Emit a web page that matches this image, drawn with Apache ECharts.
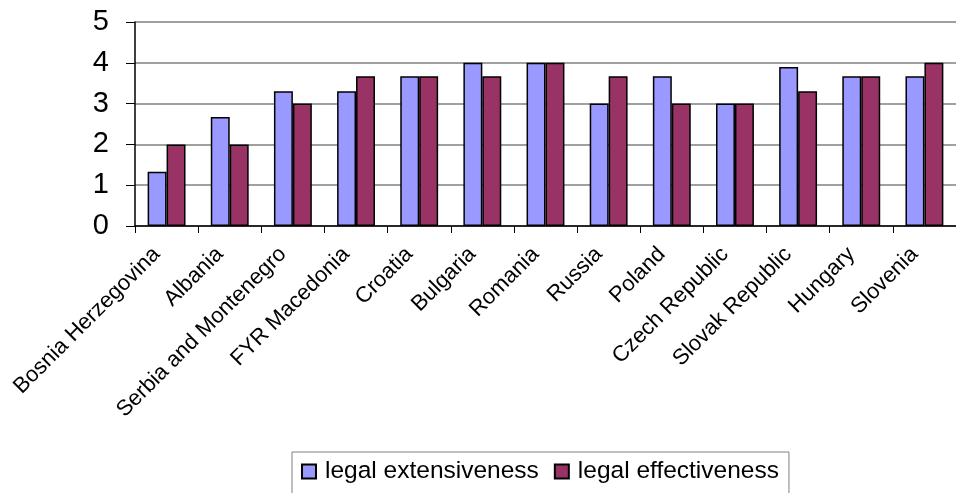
<!DOCTYPE html>
<html>
<head>
<meta charset="utf-8">
<style>
  html, body { margin: 0; padding: 0; background: #ffffff; }
  #chart { width: 956px; height: 493px; }
</style>
<script src="https://cdn.jsdelivr.net/npm/echarts@6/dist/echarts.min.js"></script>
</head>
<body>
<div id="chart"></div>
<script>
// Countries along the x axis
const countries = [
  'Bosnia Herzegovina', 'Albania', 'Serbia and Montenegro', 'FYR Macedonia',
  'Croatia', 'Bulgaria', 'Romania', 'Russia', 'Poland', 'Czech Republic',
  'Slovak Republic', 'Hungary', 'Slovenia'
];

// Scores per country
const legalExtensiveness = [1.33, 2.67, 3.3, 3.3, 3.67, 4, 4, 3, 3.67, 3, 3.9, 3.67, 3.67];
const legalEffectiveness = [2, 2, 3, 3.67, 3.67, 3.67, 4, 3.67, 3, 3, 3.3, 3.67, 4];

const seriesNames = ['legal extensiveness', 'legal effectiveness'];
const yTicks = [0, 1, 2, 3, 4, 5];

const font = '"Liberation Sans", Arial, sans-serif';
const chart = echarts.init(document.getElementById('chart'), null, { renderer: 'canvas' });

const barStyle = (color) => ({ color: color, borderColor: '#000000', borderWidth: 1.5 });

chart.setOption({
  animation: false,
  backgroundColor: '#ffffff',
  textStyle: { fontFamily: font, color: '#000000' },
  grid: { left: 135, right: -8, top: 22, bottom: 267, containLabel: false },
  legend: {
    data: seriesNames,
    left: 292,
    top: 452,
    padding: [7, 10, 30, 9],
    itemGap: 15,
    itemWidth: 14,
    itemHeight: 14,
    icon: 'rect',
    borderColor: '#808080',
    borderWidth: 1,
    textStyle: { fontFamily: font, fontSize: 24.5, color: '#000000', padding: [0, 0, 0, 4] }
  },
  xAxis: {
    type: 'category',
    data: countries,
    boundaryGap: true,
    axisLine: { lineStyle: { color: '#000000', width: 1.5 } },
    axisTick: { show: true, length: 7, alignWithLabel: false, lineStyle: { color: '#000000' } },
    axisLabel: {
      interval: 0,
      rotate: 45,
      fontSize: 22,
      fontFamily: font,
      color: '#000000',
      margin: 15,
      padding: [0, 14, 0, 0]
    },
    splitLine: { show: false }
  },
  yAxis: {
    type: 'value',
    min: yTicks[0],
    max: yTicks[yTicks.length - 1],
    interval: 1,
    axisLine: { show: true, lineStyle: { color: '#000000', width: 1.5 } },
    axisTick: { show: true, length: 9, lineStyle: { color: '#000000' } },
    axisLabel: { fontSize: 29, fontFamily: font, color: '#000000', margin: 26 },
    splitLine: { show: true, lineStyle: { color: '#808080', width: 1.5 } }
  },
  series: [
    {
      name: seriesNames[0],
      type: 'bar',
      data: legalExtensiveness,
      barGap: '0%',
      barCategoryGap: '40%',
      itemStyle: barStyle('#9999ff')
    },
    {
      name: seriesNames[1],
      type: 'bar',
      data: legalEffectiveness,
      itemStyle: barStyle('#993366')
    }
  ]
});
</script>
</body>
</html>
